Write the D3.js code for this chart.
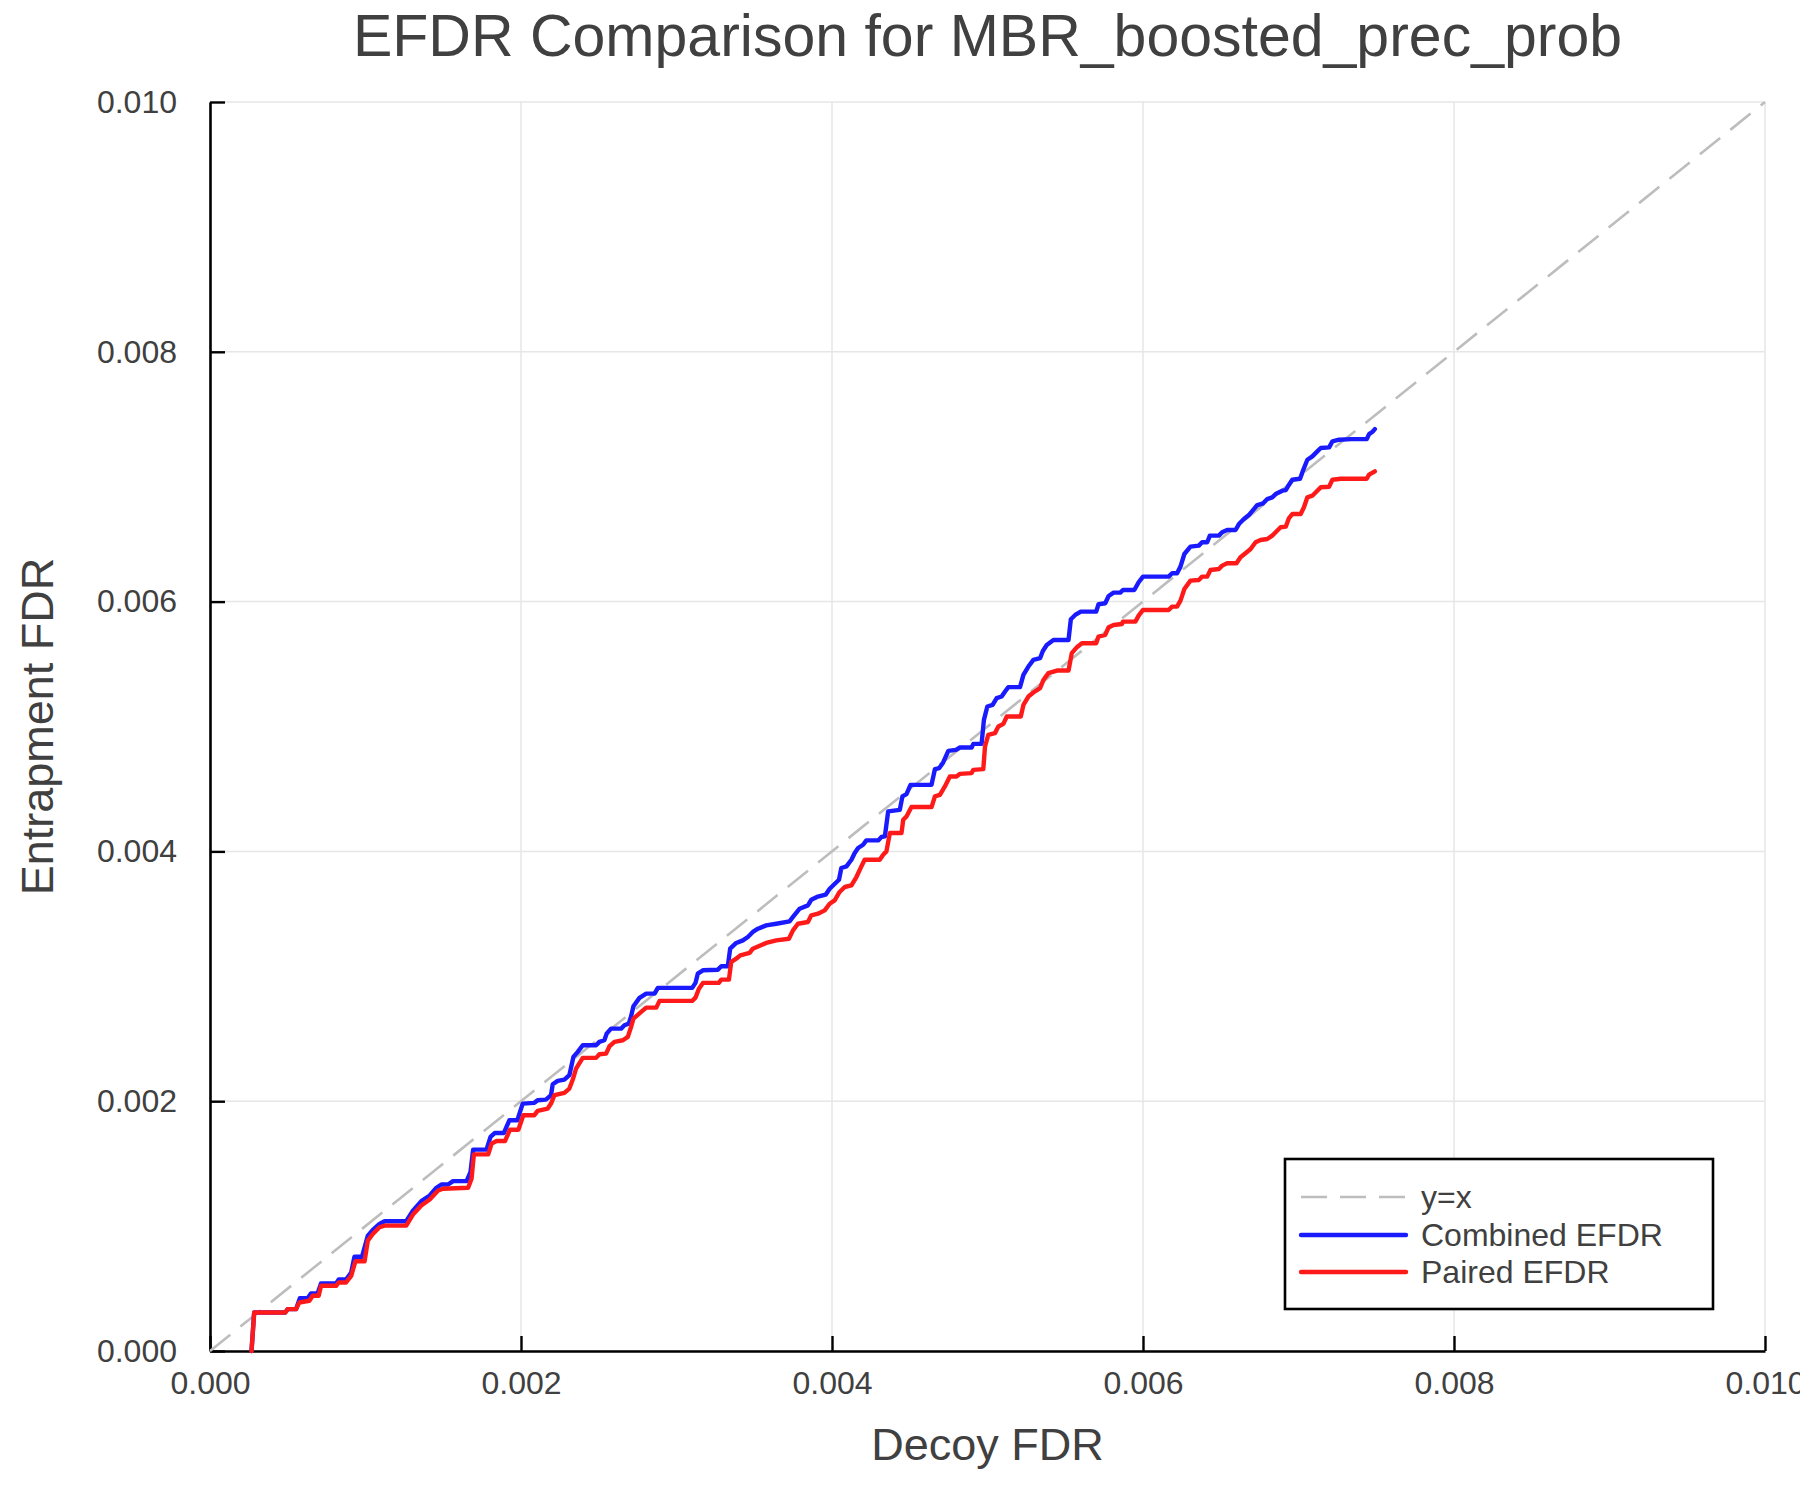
<!DOCTYPE html>
<html>
<head>
<meta charset="utf-8">
<script src="https://cdn.jsdelivr.net/npm/d3@7"></script>
<style>
  html, body { margin: 0; padding: 0; background: #ffffff; }
  svg text { font-family: "Liberation Sans", Arial, Helvetica, sans-serif; fill: #404040; }
</style>
</head>
<body>
<svg id="chart" width="1800" height="1500"></svg>
<script>
// ---------------- data ----------------
const chartTitle = "EFDR Comparison for MBR_boosted_prec_prob";
const xLabel = "Decoy FDR";
const yLabel = "Entrapment FDR";
const xTicks = [0, 0.002, 0.004, 0.006, 0.008, 0.010];
const yTicks = [0, 0.002, 0.004, 0.006, 0.008, 0.010];
const seriesNames = ["y=x", "Combined EFDR", "Paired EFDR"];
const diagonal = [[0, 0], [0.010, 0.010]];

const combinedEFDR = [
  [0.000267,0],[0.000284,0.000308],[0.000484,0.000308],[0.000499,0.000335],[0.000553,0.000335],[0.000578,0.000423],[0.000628,0.000423],[0.000649,0.00046],[0.000692,0.00046],[0.000714,0.000541],[0.000811,0.000541],[0.000828,0.000573],[0.000875,0.000573],[0.000908,0.000629],[0.000929,0.000755],[0.000978,0.000755],[0.001015,0.000924],[0.001047,0.000969],[0.00109,0.001017],[0.001123,0.001039],[0.001262,0.001039],[0.001305,0.001124],[0.001359,0.0012],[0.001413,0.001245],[0.001456,0.001307],[0.001488,0.001333],[0.001531,0.001333],[0.001563,0.00136],[0.00165,0.00136],[0.001675,0.001432],[0.001692,0.001612],[0.001778,0.001612],[0.001804,0.001714],[0.001832,0.001746],[0.00189,0.001746],[0.001925,0.001847],[0.001976,0.001847],[0.002011,0.001981],
  [0.002086,0.001987],[0.002107,0.002008],[0.00216,0.002013],[0.002193,0.002048],[0.002204,0.002136],[0.002236,0.002163],[0.002279,0.002173],[0.002311,0.002208],[0.002337,0.002355],[0.002365,0.002395],[0.002397,0.002448],[0.002483,0.002448],[0.002504,0.002475],[0.002536,0.002488],[0.002551,0.002541],[0.002579,0.002581],[0.002644,0.002581],[0.002665,0.002608],[0.002693,0.002621],[0.002708,0.00268],[0.002723,0.00276],[0.002762,0.002827],[0.002805,0.002861],[0.002859,0.002861],[0.00288,0.002907],[0.003101,0.002907],[0.003122,0.002947],[0.003137,0.003021],[0.00317,0.003048],[0.003266,0.003053],[0.003288,0.00308],[0.00333,0.00308],[0.003345,0.003221],[0.003384,0.003267],[0.003427,0.003288],[0.003459,0.003315],[0.003491,0.003355],[0.003524,0.003381],[0.003577,0.003408],[0.003642,0.003421],[0.003727,0.00344],[0.003749,0.003475],[0.003792,0.003541],[0.003845,0.003568],[0.003867,0.003613],[0.003903,0.003635],[0.003959,0.003653],[0.003985,0.003701],[0.004045,0.003773],
  [0.00406,0.003867],[0.004093,0.00388],[0.004125,0.003933],[0.004146,0.003987],[0.004168,0.004027],[0.0042,0.004053],[0.004221,0.004088],[0.004297,0.004088],[0.004318,0.004115],[0.00434,0.00412],[0.004361,0.00432],[0.004436,0.004333],[0.004453,0.00444],[0.004479,0.004459],[0.004505,0.004533],[0.00464,0.004533],[0.004662,0.004659],[0.00469,0.004667],[0.004715,0.004712],[0.004748,0.004805],[0.004797,0.004813],[0.004823,0.004832],[0.004898,0.004832],[0.004909,0.004861],[0.004962,0.004861],[0.004977,0.005053],[0.004999,0.00516],[0.005033,0.005173],[0.005059,0.005227],[0.005091,0.00524],[0.005113,0.00528],[0.005134,0.005315],[0.005209,0.005315],[0.005231,0.005413],[0.005263,0.00548],[0.005295,0.005533],[0.005338,0.005547],[0.005356,0.005605],[0.005381,0.005653],[0.005424,0.005693],[0.005521,0.005693],[0.005536,0.005859],[0.005564,0.005893],[0.0056,0.00592],[0.005699,0.00592],[0.005714,0.005979],[0.005757,0.005987],[0.005779,0.006045],[0.005811,0.006072],[0.005854,0.006072],[0.005871,0.006093],[0.005944,0.006093],
  [0.005972,0.006155],[0.006,0.0062],[0.006165,0.0062],[0.006187,0.006227],[0.006219,0.006227],[0.006241,0.00628],[0.006266,0.006381],[0.006305,0.00644],[0.006359,0.006448],[0.00638,0.006475],[0.006413,0.006475],[0.00643,0.006528],[0.006488,0.006528],[0.006509,0.006555],[0.006541,0.006573],[0.006595,0.006573],[0.006617,0.006621],[0.006649,0.006661],[0.006681,0.006693],[0.006713,0.006741],[0.006735,0.006773],[0.006773,0.006787],[0.006799,0.006821],[0.006831,0.006835],[0.006853,0.006861],[0.006896,0.006888],[0.006918,0.006893],[0.006939,0.006936],[0.00696,0.006976],[0.00701,0.006984],[0.007031,0.007056],[0.007057,0.007136],[0.007089,0.007163],[0.007121,0.007203],[0.007143,0.00723],[0.007197,0.007235],[0.007218,0.007283],[0.007261,0.007296],[0.007336,0.007301],[0.007439,0.007301],[0.007454,0.007341],[0.007476,0.00736],[0.007491,0.007381]
];

const pairedEFDR = [
  [0.000267,0],[0.000284,0.000308],[0.000484,0.000308],[0.000499,0.000335],[0.000553,0.000335],[0.000574,0.000388],[0.000639,0.000402],[0.00066,0.000442],[0.000699,0.000442],[0.000714,0.000522],[0.000811,0.000522],[0.000828,0.000549],[0.000875,0.000549],[0.000908,0.000602],[0.000935,0.000718],[0.000994,0.000718],[0.001015,0.000884],[0.001047,0.000937],[0.00109,0.000991],[0.001123,0.001004],[0.001262,0.001004],[0.001305,0.001092],[0.001359,0.001165],[0.001413,0.001213],[0.001467,0.001285],[0.001499,0.001299],[0.00166,0.001307],[0.001682,0.001379],[0.001697,0.001574],[0.001789,0.001574],[0.001811,0.00166],[0.001843,0.001681],[0.001897,0.001681],[0.001929,0.001772],[0.001983,0.001772],[0.002015,0.001888],
  [0.002086,0.001888],[0.002107,0.001923],[0.002172,0.001941],[0.002193,0.001981],[0.002215,0.002048],[0.002279,0.002067],[0.002311,0.002101],[0.002333,0.002173],[0.002354,0.002261],[0.002397,0.002347],[0.002483,0.002347],[0.002504,0.002376],[0.002547,0.002381],[0.002569,0.00244],[0.002601,0.002475],[0.002655,0.002488],[0.002687,0.002515],[0.002708,0.002595],[0.002723,0.002661],[0.002773,0.002715],[0.002805,0.002749],[0.00287,0.002749],[0.002891,0.002803],[0.003101,0.002803],[0.003122,0.002829],[0.003144,0.002901],[0.00317,0.002947],[0.003272,0.002947],[0.003288,0.002973],[0.003337,0.002973],[0.003352,0.003115],[0.003384,0.003141],[0.00341,0.003168],[0.00347,0.003187],[0.003491,0.003221],[0.003577,0.003267],[0.003642,0.003288],[0.003723,0.003301],[0.003749,0.003368],[0.003781,0.003421],[0.003845,0.003435],[0.003867,0.003488],[0.00391,0.003501],[0.003953,0.003528],[0.003985,0.003581],[0.004017,0.003608],[0.004049,0.003675],[0.004082,0.003715],[0.004125,0.003728],[0.004157,0.003795],[0.004189,0.00388],[0.00421,0.003933],
  [0.004307,0.003933],[0.004329,0.003973],[0.00435,0.004],[0.004372,0.004147],[0.004447,0.004147],[0.004458,0.004253],[0.004479,0.00428],[0.004511,0.004355],[0.00464,0.004355],[0.004662,0.00444],[0.004694,0.004453],[0.004726,0.00452],[0.004758,0.0046],[0.004801,0.0046],[0.004823,0.004621],[0.004898,0.004627],[0.004909,0.004653],[0.004973,0.004659],[0.004984,0.00484],[0.005005,0.004933],[0.005048,0.004947],[0.00507,0.005],[0.005102,0.005021],[0.005124,0.00508],[0.005214,0.00508],[0.005231,0.005173],[0.005263,0.00524],[0.005295,0.005272],[0.005338,0.005307],[0.00536,0.005373],[0.005392,0.005427],[0.005446,0.005448],[0.005521,0.005448],[0.005542,0.005587],[0.005575,0.005635],[0.005607,0.005667],[0.005699,0.005667],[0.005714,0.00572],[0.005757,0.005733],[0.005779,0.005795],[0.005811,0.005813],[0.005865,0.005821],[0.005871,0.00584],[0.005951,0.00584],
  [0.005972,0.005888],[0.006,0.005933],[0.006165,0.005933],[0.006187,0.00596],[0.006219,0.00596],[0.006241,0.006008],[0.006266,0.006101],[0.006305,0.006168],[0.006359,0.006173],[0.00638,0.0062],[0.006413,0.0062],[0.006434,0.006253],[0.006488,0.006261],[0.006509,0.006288],[0.006541,0.006307],[0.006601,0.006307],[0.006627,0.006355],[0.006659,0.006387],[0.006692,0.006421],[0.006724,0.006475],[0.006756,0.006493],[0.006799,0.006501],[0.006831,0.006528],[0.006853,0.006555],[0.006885,0.006595],[0.006918,0.0066],[0.006939,0.006669],[0.00696,0.006701],[0.007014,0.006701],[0.007035,0.006755],[0.007057,0.006835],[0.007089,0.006848],[0.007121,0.006888],[0.007143,0.006915],[0.007197,0.00692],[0.007218,0.006976],[0.007272,0.006984],[0.007439,0.006984],[0.007454,0.007016],[0.007491,0.007043]
];

// ---------------- layout ----------------
const svg = d3.select("#chart");
const W = 1800, H = 1500;
const m = { left: 210, right: 1765, top: 102, bottom: 1351 };
const x = d3.scaleLinear().domain([0, 0.010]).range([m.left, m.right]);
const y = d3.scaleLinear().domain([0, 0.010]).range([m.bottom, m.top]);
const fmt = d3.format(".3f");
const axisColor = "#000000";
const colors = { diag: "#bdbdbd", combined: "#1a1aff", paired: "#ff1a1a" };
const seriesWidth = 4.4;

svg.append("rect").attr("width", W).attr("height", H).attr("fill", "#ffffff");

// grid
const grid = svg.append("g");
grid.selectAll("line.gx").data(xTicks).enter().append("line")
  .attr("x1", d => x(d)).attr("x2", d => x(d))
  .attr("y1", m.top).attr("y2", m.bottom)
  .attr("stroke", "#e6e6e6").attr("stroke-width", 1.5);
grid.selectAll("line.gy").data(yTicks).enter().append("line")
  .attr("x1", m.left).attr("x2", m.right)
  .attr("y1", d => y(d)).attr("y2", d => y(d))
  .attr("stroke", "#e6e6e6").attr("stroke-width", 1.5);

// axes
const xAxis = d3.axisBottom(x).tickValues(xTicks).tickFormat(fmt)
  .tickSizeInner(-15).tickSizeOuter(0).tickPadding(20);
const yAxis = d3.axisLeft(y).tickValues(yTicks).tickFormat(fmt)
  .tickSizeInner(-15).tickSizeOuter(0).tickPadding(33);

const gx = svg.append("g").attr("transform", `translate(0,${m.bottom})`).call(xAxis);
const gy = svg.append("g").attr("transform", `translate(${m.left},0)`).call(yAxis);
[gx, gy].forEach(g => {
  g.select(".domain").attr("stroke", axisColor).attr("stroke-width", 2.6);
  g.selectAll(".tick line").attr("stroke", axisColor).attr("stroke-width", 2.4);
  g.selectAll(".tick text").attr("fill", "#404040")
    .style("font-size", "32px")
    .style("font-family", '"Liberation Sans", Arial, Helvetica, sans-serif');
});

// lines
const line = d3.line().x(d => x(d[0])).y(d => y(d[1]));
const plot = svg.append("g");
plot.append("path").datum(diagonal).attr("d", line)
  .attr("fill", "none").attr("stroke", colors.diag).attr("stroke-width", 2.6)
  .attr("stroke-dasharray", "26,13");
plot.append("path").datum(combinedEFDR).attr("d", line)
  .attr("fill", "none").attr("stroke", colors.combined).attr("stroke-width", seriesWidth)
  .attr("stroke-linejoin", "round").attr("stroke-linecap", "round");
plot.append("path").datum(pairedEFDR).attr("d", line)
  .attr("fill", "none").attr("stroke", colors.paired).attr("stroke-width", seriesWidth)
  .attr("stroke-linejoin", "round").attr("stroke-linecap", "round");

// title and axis labels
svg.append("text").attr("x", (m.left + m.right) / 2).attr("y", 56)
  .attr("text-anchor", "middle").style("font-size", "59px").text(chartTitle);
svg.append("text").attr("x", (m.left + m.right) / 2).attr("y", 1460)
  .attr("text-anchor", "middle").style("font-size", "45px").text(xLabel);
svg.append("text").attr("transform", `translate(53,${(m.top + m.bottom) / 2}) rotate(-90)`)
  .attr("text-anchor", "middle").style("font-size", "45px").text(yLabel);

// legend
const lg = svg.append("g");
lg.append("rect").attr("x", 1285).attr("y", 1159).attr("width", 428).attr("height", 150)
  .attr("fill", "#ffffff").attr("stroke", "#000000").attr("stroke-width", 2.6);
const legendItems = [
  { name: seriesNames[0], color: colors.diag, dash: "26,13", w: 2.6 },
  { name: seriesNames[1], color: colors.combined, dash: null, w: seriesWidth },
  { name: seriesNames[2], color: colors.paired, dash: null, w: seriesWidth }
];
const rowY = [1197, 1235, 1272];
legendItems.forEach((it, i) => {
  lg.append("line").attr("x1", 1301).attr("x2", 1406).attr("y1", rowY[i]).attr("y2", rowY[i])
    .attr("stroke", it.color).attr("stroke-width", it.w)
    .attr("stroke-dasharray", it.dash).attr("stroke-linecap", it.dash ? "butt" : "round");
  lg.append("text").attr("x", 1421).attr("y", rowY[i] + 11)
    .style("font-size", "32px").text(it.name);
});
</script>
</body>
</html>
